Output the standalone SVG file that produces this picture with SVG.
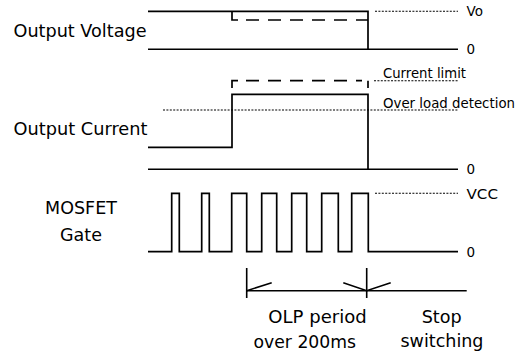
<svg xmlns="http://www.w3.org/2000/svg" width="523" height="352" viewBox="0 0 523 352">
<style>
.bg{fill:#fff}
.tr{fill:none;stroke:#000;stroke-width:1.7;stroke-linejoin:miter;stroke-linecap:butt}
.ax{fill:none;stroke:#000;stroke-width:1.5}
.da{fill:none;stroke:#000;stroke-width:1.7;stroke-dasharray:13 9}
.dt{fill:none;stroke:#000;stroke-width:1.1;stroke-dasharray:2 1.4}
.ar{fill:none;stroke:#000;stroke-width:1.6}
.big{font-family:"DejaVu Sans","Liberation Sans",sans-serif;font-size:17.5px;fill:#000}
.sm{font-family:"DejaVu Sans","Liberation Sans",sans-serif;font-size:13.5px;fill:#000}
</style>
<rect class="bg" x="0" y="0" width="523" height="352"/>

<g id="labels">
<text class="big" x="13.5" y="37.3" textLength="133" lengthAdjust="spacingAndGlyphs">Output Voltage</text>
<text class="big" x="13.5" y="135" textLength="134" lengthAdjust="spacingAndGlyphs">Output Current</text>
<text class="big" x="81" y="213.5" text-anchor="middle">MOSFET</text>
<text class="big" x="81" y="240.5" text-anchor="middle">Gate</text>
</g>

<g id="voltage">
<path class="ax" d="M148,49.3 H458"/>
<path class="tr" d="M148,11.3 H368 V49.3"/>
<path class="tr" d="M232,11.3 V20 H238"/>
<path class="da" d="M246,20 H368"/>
<path class="dt" d="M375,11.3 H458"/>
<text class="sm" x="466.5" y="16">Vo</text>
<text class="sm" x="466.5" y="54">0</text>
</g>

<g id="current">
<path class="ax" d="M148,169.3 H458"/>
<path class="tr" d="M148,147.3 H232 V94.3 H368 V169.3"/>
<path class="tr" d="M232,88 V80.7 H238"/>
<path class="da" d="M246,80.7 H362"/>
<path class="tr" d="M368,80.7 V88"/>
<path class="dt" d="M374,80.7 H458"/>
<path class="dt" d="M163,110 H458"/>
<text class="sm" x="383" y="77.7" textLength="83" lengthAdjust="spacingAndGlyphs">Current limit</text>
<text class="sm" x="383" y="108.3" textLength="132" lengthAdjust="spacingAndGlyphs">Over load detection</text>
<text class="sm" x="466.5" y="174">0</text>
</g>

<g id="gate">
<path class="tr" d="M148,251.7 H171.7 V193.3 H179.3 V251.7 H201.7 V193.3 H209.3 V251.7 H231.7 V193.3 H246.7 V251.7 H261.7 V193.3 H276.7 V251.7 H291.7 V193.3 H306.7 V251.7 H321.7 V193.3 H338.3 V251.7 H351.7 V193.3 H368.3 V251.7 H458"/>
<path class="dt" d="M375,193.3 H458"/>
<text class="sm" x="466.5" y="198.5" textLength="31.5" lengthAdjust="spacingAndGlyphs">VCC</text>
<text class="sm" x="466.5" y="256.5">0</text>
</g>

<g id="connectors">
<path class="ar" d="M246.7,268 V298 M366.7,268 V298 M246.7,290.7 H466.7"/>
<path class="ar" d="M271.7,282.7 L246.7,290.7 M343.3,282.7 L366.7,290.7 L390.7,282.7"/>
</g>

<g id="periods">
<text class="big" x="268.3" y="322.7" textLength="98.4" lengthAdjust="spacingAndGlyphs">OLP period</text>
<text class="big" x="253.5" y="347.5" textLength="102.5" lengthAdjust="spacingAndGlyphs">over 200ms</text>
<text class="big" x="421.7" y="323" textLength="40" lengthAdjust="spacingAndGlyphs">Stop</text>
<text class="big" x="400.5" y="347" textLength="83" lengthAdjust="spacingAndGlyphs">switching</text>
</g>
</svg>
